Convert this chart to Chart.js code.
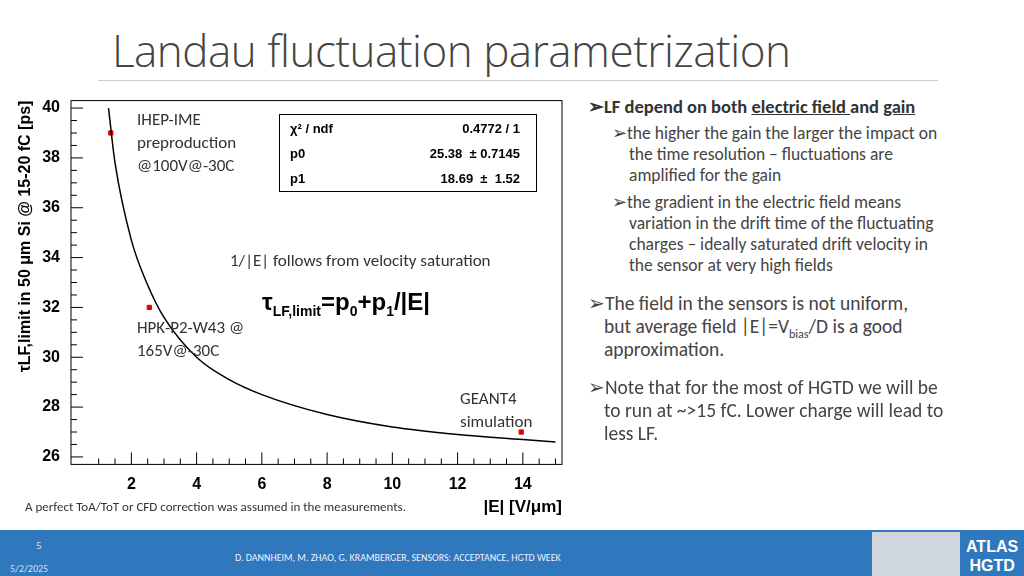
<!DOCTYPE html>
<html><head><meta charset="utf-8">
<script src="https://cdn.jsdelivr.net/npm/chart.js@4.4.1/dist/chart.umd.min.js"></script>
<style>
body{margin:0;width:1024px;height:576px;background:#fff;font-family:Calibri,"Liberation Sans",sans-serif;position:relative;overflow:hidden}
.a{position:absolute;white-space:nowrap}
sub{line-height:0}
#title{left:112px;top:20px;font-size:44px;color:#444;font-family:"Open Sans",sans-serif;font-weight:300;letter-spacing:-0.5px}
#rule{left:98px;top:80px;width:840px;height:1px;background:#ccc}
#wrap{position:absolute;left:0;top:88px;width:580px;height:430px}
.r{font-size:17px;color:#333;line-height:23px}
.bul{font-size:17.5px;color:#444;line-height:21px;white-space:normal}
#footer{left:0;top:530px;width:1024px;height:46px;background:#2f78bd}
</style></head><body>
<div class="a" id="title">Landau fluctuation parametrization</div>
<div class="a" id="rule"></div>
<div id="wrap"><canvas id="c" width="580" height="430"></canvas></div>
<div class="a r" style="left:137px;top:108px">IHEP-IME<br>preproduction<br>@100V@-30C</div>
<div class="a r" style="left:230px;top:249px">1/|E| follows from velocity saturation</div>
<div class="a r" style="left:137px;top:316px">HPK-P2-W43 @<br>165V@-30C</div>
<div class="a r" style="left:460px;top:387px">GEANT4<br>simulation</div>
<div class="a" style="left:262px;top:288px;font:bold 24px 'Liberation Sans',Arial">τ<sub style="font-size:14px">LF,limit</sub>=p<sub style="font-size:14px">0</sub>+p<sub style="font-size:14px">1</sub>/|E|</div>
<div class="a" style="left:279px;top:114px;width:256px;height:76px;border:1px solid #000;background:#fff;font:bold 13px 'Liberation Sans',Arial">
 <div class="a" style="left:10px;top:6px">χ² / ndf</div><div class="a" style="right:16px;top:6px">0.4772 / 1</div>
 <div class="a" style="left:10px;top:31px">p0</div><div class="a" style="right:16px;top:31px">25.38 &nbsp;± 0.7145</div>
 <div class="a" style="left:10px;top:56px">p1</div><div class="a" style="right:16px;top:56px">18.69 &nbsp;± &nbsp;1.52</div>
</div>
<div class="a" style="left:25px;top:499px;font-size:13px;color:#333">A perfect ToA/ToT or CFD correction was assumed in the measurements.</div>
<div class="a bul" style="left:588px;top:96px;width:420px;font-weight:bold;font-size:18.5px;color:#333">➢LF depend on both <u>electric field </u>and <u>gain</u></div>
<div class="a bul" style="left:612px;top:123px;width:400px">➢the higher the gain the larger the impact on<br><span style="margin-left:17px">the time resolution – fluctuations are</span><br><span style="margin-left:17px">amplified for the gain</span></div>
<div class="a bul" style="left:612px;top:192px;width:400px">➢the gradient in the electric field means<br><span style="margin-left:17px">variation in the drift time of the fluctuating</span><br><span style="margin-left:17px">charges – ideally saturated drift velocity in</span><br><span style="margin-left:17px">the sensor at very high fields</span></div>
<div class="a bul" style="left:588px;top:292px;width:436px;font-size:19.5px;line-height:23px">➢The field in the sensors is not uniform,<br><span style="margin-left:16px">but average field |E|=V<sub style="font-size:12px">bias</sub>/D is a good</span><br><span style="margin-left:16px">approximation.</span></div>
<div class="a bul" style="left:588px;top:376px;width:436px;font-size:19.5px;line-height:23px">➢Note that for the most of HGTD we will be<br><span style="margin-left:16px">to run at ~&gt;15 fC. Lower charge will lead to</span><br><span style="margin-left:16px">less LF.</span></div>
<div class="a" id="footer"></div>
<div class="a" style="left:36px;top:539px;font-size:11px;color:#dde">5</div>
<div class="a" style="left:10px;top:562px;font-size:10px;color:#dde">5/2/2025</div>
<div class="a" style="left:235px;top:551px;font-size:10px;color:#eef">D. DANNHEIM, M. ZHAO, G. KRAMBERGER, SENSORS: ACCEPTANCE, HGTD WEEK</div>
<div class="a" style="left:872px;top:532px;width:88px;height:44px;background:#cfd6dc"></div>
<div class="a" style="left:966px;top:537px;font:bold 16px 'Liberation Sans',Arial;color:#fff;line-height:19px;text-align:center">ATLAS<br>HGTD</div>
<script>
const fitX = [1.3, 1.5, 2, 2.5, 3, 4, 5, 6, 8, 10, 12, 14, 15];
const fitY = [40.0, 37.8, 34.7, 32.9, 31.6, 30.0, 29.1, 28.5, 27.7, 27.2, 26.9, 26.7, 26.6];
const measX = [1.37, 2.55, 13.95];
const measY = [39.0, 32.0, 27.0];
const xTicks = [2, 4, 6, 8, 10, 12, 14];
const yTicks = [26, 28, 30, 32, 34, 36, 38, 40];

const frame = {
  id: 'frame',
  afterDraw(chart) {
    const {ctx, chartArea: a, scales: {x, y}} = chart;
    ctx.save();
    ctx.strokeStyle = '#000'; ctx.lineWidth = 1;
    ctx.strokeRect(a.left, a.top, a.right - a.left, a.bottom - a.top);
    ctx.beginPath();
    for (let v = 1; v <= 15; v += 0.5) {
      const px = x.getPixelForValue(v), len = v % 2 === 0 ? 12 : 6;
      ctx.moveTo(px, a.bottom); ctx.lineTo(px, a.bottom - len);
    }
    for (let v = 26; v <= 40; v += 0.5) {
      const py = y.getPixelForValue(v), len = v % 2 === 0 ? 12 : 6;
      ctx.moveTo(a.left, py); ctx.lineTo(a.left + len, py);
    }
    ctx.stroke();
    ctx.restore();
  }
};

new Chart(document.getElementById('c'), {
  type: 'scatter',
  data: {
    datasets: [
      { data: fitX.map((v, i) => ({x: v, y: fitY[i]})), showLine: true, borderColor: '#000',
        borderWidth: 1.5, pointRadius: 0, cubicInterpolationMode: 'monotone' },
      { data: measX.map((v, i) => ({x: v, y: measY[i]})), pointStyle: 'rect', pointRadius: 3,
        backgroundColor: '#e00000', borderColor: '#e00000' }
    ]
  },
  options: {
    responsive: false, animation: false,
    layout: { padding: { left: 12, right: 18, top: 6, bottom: 0 } },
    plugins: { legend: { display: false }, tooltip: { enabled: false } },
    scales: {
      x: { type: 'linear', min: 0.15, max: 15.2,
        afterBuildTicks: s => { s.ticks = xTicks.map(v => ({value: v})); },
        grid: { display: false }, border: { display: false },
        ticks: { color: '#000', font: { family: 'Liberation Sans', weight: 'bold', size: 16 } },
        title: { display: true, text: '|E| [V/μm]', align: 'end', color: '#000', padding: 0,
          font: { family: 'Liberation Sans', weight: 'bold', size: 17 } } },
      y: { min: 25.7, max: 40.3,
        afterBuildTicks: s => { s.ticks = yTicks.map(v => ({value: v})); },
        grid: { display: false }, border: { display: false },
        ticks: { color: '#000', font: { family: 'Liberation Sans', weight: 'bold', size: 16 } },
        title: { display: true, text: 'τLF,limit in 50 μm Si @ 15-20 fC [ps]', align: 'end', color: '#000',
          font: { family: 'Liberation Sans', weight: 'bold', size: 16 } } }
    }
  },
  plugins: [frame]
});
</script>
</body></html>
